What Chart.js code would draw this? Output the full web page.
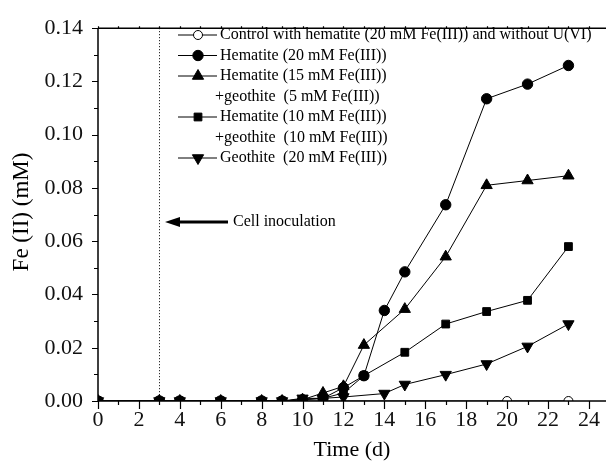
<!DOCTYPE html>
<html>
<head>
<meta charset="utf-8">
<script src="https://cdn.jsdelivr.net/npm/chart.js@4/dist/chart.umd.min.js"></script>
<style>
  html, body { margin: 0; padding: 0; background: #fff; }
  #wrap { width: 606px; height: 466px; position: relative; }
</style>
</head>
<body>
<div id="wrap"><canvas id="feChart" width="606" height="466"></canvas></div>
<script>
// values (time in days, Fe(II) in mM)
const controlDays = [0, 3, 4, 6, 8, 20, 23];
const controlFe = [0, 0, 0, 0, 0, 0, 0];

const hem20Days = [0, 3, 4, 6, 8, 9, 10, 11, 12, 13, 14, 15, 17, 19, 21, 23];
const hem20Fe = [0, 0, 0, 0, 0, 0, 0.0005, 0.001, 0.005, 0.0095, 0.034, 0.0485, 0.0737, 0.1135, 0.119, 0.126];

const hem15Days = [0, 3, 4, 6, 8, 9, 10, 11, 12, 13, 15, 17, 19, 21, 23];
const hem15Fe = [0, 0, 0, 0, 0, 0, 0.0005, 0.003, 0.0055, 0.021, 0.0345, 0.0542, 0.081, 0.0828, 0.0846];

const hem10Days = [0, 3, 4, 6, 8, 9, 10, 11, 12, 13, 15, 17, 19, 21, 23];
const hem10Fe = [0, 0, 0, 0, 0, 0, 0.0005, 0.001, 0.003, 0.0095, 0.0183, 0.0289, 0.0336, 0.0378, 0.058];

const geoDays = [0, 3, 4, 6, 8, 9, 10, 11, 12, 14, 15, 17, 19, 21, 23];
const geoFe = [0, 0, 0, 0, 0, 0, 0.001, 0.001, 0.0015, 0.0028, 0.0062, 0.0099, 0.0139, 0.0205, 0.0289];

const legendLines = [
  ["Control with hematite (20 mM Fe(III)) and without U(VI)"],
  ["Hematite (20 mM Fe(III))"],
  ["Hematite (15 mM Fe(III))", "+geothite  (5 mM Fe(III))"],
  ["Hematite (10 mM Fe(III))", "+geothite  (10 mM Fe(III))"],
  ["Geothite  (20 mM Fe(III))"],
];

const xLabelDays = [0, 2, 4, 6, 8, 10, 12, 14, 16, 18, 20, 22, 24];
const yLabelVals = [0, 0.02, 0.04, 0.06, 0.08, 0.10, 0.12, 0.14];
const inoculationDay = 3;

const serif = "'Liberation Serif', 'Times New Roman', serif";

function toPoints(xs, ys) {
  return xs.map((x, i) => ({ x: x, y: ys[i] }));
}

function makeSet(label, xs, ys, style, fill, rot, r, order) {
  return {
    label: label,
    data: toPoints(xs, ys),
    borderColor: "#000",
    borderWidth: 1,
    backgroundColor: fill,
    pointStyle: style,
    pointRotation: rot,
    pointRadius: r,
    pointBorderWidth: 1,
    pointBorderColor: "#000",
    pointBackgroundColor: fill,
    tension: 0,
    order: order,
    clip: { left: 0, top: 8, right: 8, bottom: 0 },
  };
}

const sets = [
  makeSet(legendLines[0].join(" "), controlDays, controlFe, "circle", "#fff", 0, 4.5, 9),
  makeSet(legendLines[1].join(" "), hem20Days, hem20Fe, "circle", "#000", 0, 5.2, 1),
  makeSet(legendLines[2].join(" "), hem15Days, hem15Fe, "triangle", "#000", 0, 6.5, 2),
  makeSet(legendLines[3].join(" "), hem10Days, hem10Fe, "rect", "#000", 0, 5.5, 3),
  makeSet(legendLines[4].join(" "), geoDays, geoFe, "triangle", "#000", 180, 6.5, 4),
];

// axes frame, tick marks, titles, legend and the inoculation note
const decorations = {
  id: "decorations",
  afterDatasetsDraw(chart) {
    const ctx = chart.ctx;
    const xs = chart.scales.x;
    const ys = chart.scales.y;
    const a = chart.chartArea;
    ctx.save();
    ctx.strokeStyle = "#000";
    ctx.fillStyle = "#000";

    // frame: left, bottom, top
    ctx.lineWidth = 1.5;
    ctx.beginPath();
    ctx.moveTo(a.left, a.top);
    ctx.lineTo(a.left, a.bottom);
    ctx.lineTo(606, a.bottom);
    ctx.moveTo(a.left, a.top);
    ctx.lineTo(606, a.top);
    ctx.stroke();

    // x ticks (major every 2 d, minor every 1 d)
    ctx.lineWidth = 1.2;
    ctx.beginPath();
    for (let d = 0; d <= 24; d++) {
      const px = Math.round(xs.getPixelForValue(d)) + 0.5;
      const len = d % 2 === 0 ? 8 : 4;
      ctx.moveTo(px, a.bottom);
      ctx.lineTo(px, a.bottom + len);
      ctx.moveTo(px, a.top);
      ctx.lineTo(px, a.top - 2);
    }
    // y ticks
    for (let k = 0; k <= 14; k++) {
      const py = Math.round(ys.getPixelForValue(k * 0.01)) + 0.5;
      const len = k % 2 === 0 ? 6 : 4;
      ctx.moveTo(a.left, py);
      ctx.lineTo(a.left - len, py);
    }
    ctx.stroke();

    // dotted inoculation line
    const ix = Math.round(xs.getPixelForValue(inoculationDay)) + 0.5;
    ctx.lineWidth = 1;
    ctx.setLineDash([1, 2]);
    ctx.beginPath();
    ctx.moveTo(ix, a.top);
    ctx.lineTo(ix, a.bottom);
    ctx.stroke();
    ctx.setLineDash([]);

    // arrow + note
    const ay = 222;
    ctx.lineWidth = 3;
    ctx.beginPath();
    ctx.moveTo(176, ay);
    ctx.lineTo(228, ay);
    ctx.stroke();
    ctx.beginPath();
    ctx.moveTo(165, ay);
    ctx.lineTo(180, ay - 5);
    ctx.lineTo(180, ay + 5);
    ctx.closePath();
    ctx.fill();
    ctx.font = "16px " + serif;
    ctx.textBaseline = "middle";
    ctx.textAlign = "left";
    ctx.fillText("Cell inoculation", 233, ay);

    // legend
    let row = 0;
    const rowH = 20.5;
    const top = 35;
    chart.data.datasets.forEach((ds, i) => {
      const y = top + row * rowH;
      ctx.strokeStyle = "#000";
      ctx.lineWidth = 1;
      ctx.beginPath();
      ctx.moveTo(178, y);
      ctx.lineTo(217, y);
      ctx.stroke();
      ctx.fillStyle = ds.pointBackgroundColor;
      Chart.helpers.drawPoint(ctx, {
        pointStyle: ds.pointStyle,
        rotation: ds.pointRotation,
        radius: ds.pointRadius,
        borderWidth: 1,
      }, 198, y);
      ctx.fillStyle = "#000";
      legendLines[i].forEach((txt, j) => {
        ctx.fillText(txt, j === 0 ? 220 : 215, top + (row + j) * rowH);
      });
      row += legendLines[i].length;
    });

    // axis titles
    ctx.font = "22px " + serif;
    ctx.textAlign = "center";
    ctx.textBaseline = "middle";
    ctx.fillText("Time (d)", 352, 450);
    ctx.translate(22, 212);
    ctx.rotate(-Math.PI / 2);
    ctx.font = "23px " + serif;
    ctx.fillText("Fe (II) (mM)", 0, 0);
    ctx.restore();
  },
};

new Chart(document.getElementById("feChart"), {
  type: "line",
  data: { datasets: sets },
  options: {
    responsive: false,
    animation: false,
    layout: { padding: { top: 19, right: 0, left: 0, bottom: 0 } },
    plugins: { legend: { display: false }, tooltip: { enabled: false } },
    scales: {
      x: {
        type: "linear",
        min: 0,
        max: 24.35,
        afterBuildTicks(scale) { scale.ticks = xLabelDays.map((v) => ({ value: v })); },
        afterFit(scale) { scale.height = 65; },
        grid: { display: false, drawTicks: false },
        border: { display: false },
        ticks: {
          autoSkip: false,
          maxRotation: 0,
          padding: 6,
          color: "#111",
          font: { family: serif, size: 22 },
          callback: (v) => String(v),
        },
      },
      y: {
        min: 0,
        max: 0.14,
        afterBuildTicks(scale) { scale.ticks = yLabelVals.map((v) => ({ value: v })); },
        afterFit(scale) { scale.width = 98; },
        grid: { display: false, drawTicks: false },
        border: { display: false },
        ticks: {
          padding: 15,
          color: "#111",
          font: { family: serif, size: 22 },
          callback: (v) => v.toFixed(2),
        },
      },
    },
  },
  plugins: [decorations],
});
</script>
</body>
</html>
